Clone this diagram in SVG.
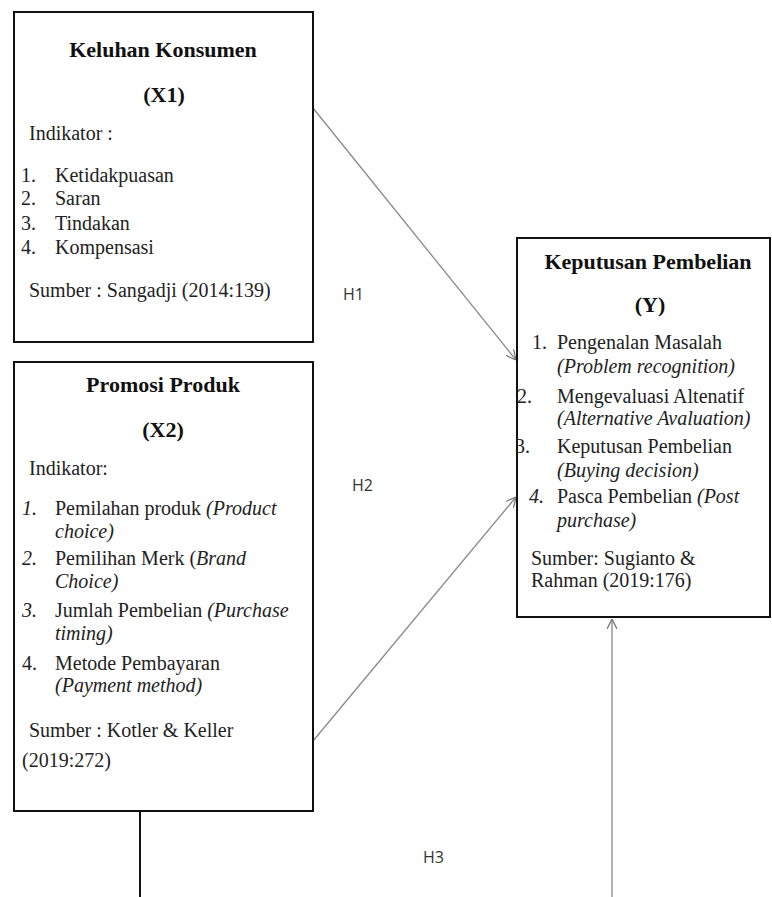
<svg xmlns="http://www.w3.org/2000/svg" width="772" height="897" viewBox="0 0 772 897">
<style>
.box{fill:#fff;stroke:#111;stroke-width:2}
.t{font-family:"Liberation Serif","Times New Roman",serif;font-size:20px;fill:#222}
.h{font-family:"Liberation Serif","Times New Roman",serif;font-size:22px;font-weight:bold;fill:#111;text-anchor:middle}
.i{font-style:italic}
.lab{font-family:"Open Sans","Liberation Sans",sans-serif;font-size:16px;fill:#333}
.arr{stroke:#888;stroke-width:1.3;fill:none}
</style>
<defs>
<marker id="ah" viewBox="0 0 10 10" refX="10" refY="5" markerWidth="10" markerHeight="10" markerUnits="userSpaceOnUse" orient="auto">
<path d="M0,0 L10,5 L0,10" fill="none" stroke="#777" stroke-width="1.3"/>
</marker>
</defs>
<rect width="772" height="897" fill="#fff"/>
<g id="connectors">
<line class="arr" x1="313" y1="108" x2="516" y2="360" marker-end="url(#ah)"/>
<line class="arr" x1="313" y1="741" x2="516" y2="497" marker-end="url(#ah)"/>
<line class="arr" x1="612" y1="897" x2="612" y2="619" marker-end="url(#ah)"/>
<line x1="140" y1="811" x2="140" y2="897" stroke="#111" stroke-width="2"/>
<text class="lab" x="343" y="300">H1</text>
<text class="lab" x="352" y="491">H2</text>
<text class="lab" x="423" y="863">H3</text>
</g>
<g id="x1">
<rect class="box" x="14" y="12" width="299" height="330"/>
<text class="h" x="163" y="57">Keluhan Konsumen</text>
<text class="h" x="164" y="102">(X1)</text>
<text class="t" x="29" y="140">Indikator :</text>
<text class="t" x="21" y="182">1.</text><text class="t" x="55" y="182">Ketidakpuasan</text>
<text class="t" x="21" y="205">2.</text><text class="t" x="55" y="205">Saran</text>
<text class="t" x="21" y="230">3.</text><text class="t" x="55" y="230">Tindakan</text>
<text class="t" x="21" y="254">4.</text><text class="t" x="55" y="254">Kompensasi</text>
<text class="t" x="29" y="297">Sumber : Sangadji (2014:139)</text>
</g>
<g id="x2">
<rect class="box" x="14" y="362" width="299" height="449"/>
<text class="h" x="163" y="392">Promosi Produk</text>
<text class="h" x="163" y="437">(X2)</text>
<text class="t" x="29" y="475">Indikator:</text>
<text class="t i" x="22" y="515">1.</text><text class="t" x="55" y="515">Pemilahan produk <tspan class="i">(Product</tspan></text>
<text class="t i" x="55" y="538">choice)</text>
<text class="t i" x="22" y="565">2.</text><text class="t" x="55" y="565">Pemilihan Merk (<tspan class="i">Brand</tspan></text>
<text class="t i" x="55" y="588">Choice)</text>
<text class="t i" x="22" y="617">3.</text><text class="t" x="55" y="617">Jumlah Pembelian <tspan class="i">(Purchase</tspan></text>
<text class="t i" x="55" y="640">timing)</text>
<text class="t" x="22" y="670">4.</text><text class="t" x="55" y="670">Metode Pembayaran</text>
<text class="t i" x="55" y="692">(Payment method)</text>
<text class="t" x="29" y="737">Sumber : Kotler &amp; Keller</text>
<text class="t" x="22" y="767">(2019:272)</text>
</g>
<g id="y">
<rect class="box" x="517" y="238" width="253" height="379"/>
<text class="h" x="648" y="269">Keputusan Pembelian</text>
<text class="h" x="650" y="312">(Y)</text>
<text class="t" x="532" y="349">1.</text><text class="t" x="557" y="349">Pengenalan Masalah</text>
<text class="t i" x="557" y="373">(Problem recognition)</text>
<text class="t" x="517" y="403">2.</text><text class="t" x="557" y="403">Mengevaluasi Altenatif</text>
<text class="t i" x="557" y="425">(Alternative Avaluation)</text>
<text class="t" x="515" y="453">3.</text><text class="t" x="557" y="453">Keputusan Pembelian</text>
<text class="t i" x="557" y="477">(Buying decision)</text>
<text class="t i" x="529" y="503">4.</text><text class="t" x="557" y="503">Pasca Pembelian <tspan class="i">(Post</tspan></text>
<text class="t i" x="557" y="527">purchase)</text>
<text class="t" x="531" y="565">Sumber: Sugianto &amp;</text>
<text class="t" x="531" y="587">Rahman (2019:176)</text>
</g>
</svg>
